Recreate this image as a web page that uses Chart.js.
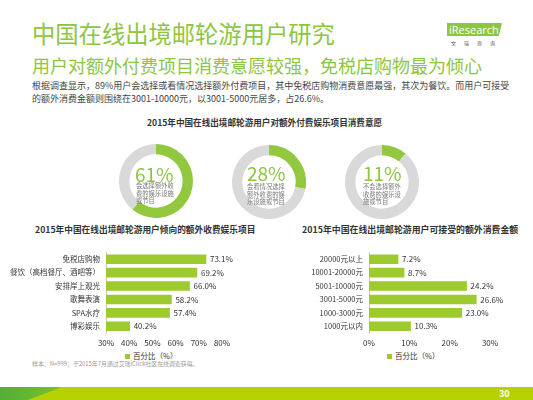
<!DOCTYPE html>
<html>
<head>
<meta charset="utf-8">
<script src="https://cdn.jsdelivr.net/npm/chart.js@4.4.1/dist/chart.umd.min.js"></script>
<style>
  body { margin:0; width:533px; height:400px; position:relative; overflow:hidden; background:#fff;
         font-family:"Noto Sans CJK SC", sans-serif; }
  .abs { position:absolute; white-space:nowrap; }
  .ring-pct { position:absolute; font-family:"Noto Sans CJK SC", sans-serif; font-weight:400; color:#8cc63f; font-size:19px; line-height:19px; }
  .ring-txt { position:absolute; color:#777; font-size:6.3px; line-height:7.5px; }
  .box { position:absolute; }
  .legend { position:absolute; font-size:7.5px; color:#333; line-height:8px; }
  .legend i { display:inline-block; width:5px; height:5px; background:#9dcb2f; margin-right:3px; vertical-align:0px; }
</style>
</head>
<body>

<div class="abs" style="left:32px; top:21px; font-size:23.3px; line-height:24px; color:#8dc63f;">中国在线出境邮轮游用户研究</div>
<div class="abs" style="left:32px; top:56px; font-size:18px; line-height:18px; color:#8dc63f;">用户对额外付费项目消费意愿较强，免税店购物最为倾心</div>
<div class="abs" style="left:32px; top:80px; font-size:9px; line-height:12.5px; color:#444;">根据调查显示，89%用户会选择或看情况选择额外付费项目，其中免税店购物消费意愿最强，其次为餐饮。而用户可接受<br>的额外消费金额则围绕在3001-10000元，以3001-5000元居多，占26.6%。</div>

<!-- logo -->
<div class="abs" style="left:447px; top:23px; width:55px; height:13px; background:#8dc63f; clip-path:polygon(0 0,100% 0,94% 100%,0 100%);"></div>
<div class="abs" style="left:449px; top:23px; font-family:'Open Sans',sans-serif; font-size:11px; line-height:13px; color:#fff;">iResearch</div>
<div class="abs" style="left:451px; top:40px; font-size:5px; line-height:6px; color:#555; letter-spacing:8px;">文瑞咨询</div>

<div class="abs" style="left:147px; top:117px; font-size:8.6px; line-height:10px; font-weight:bold; color:#333;">2015年中国在线出境邮轮游用户对额外付费娱乐项目消费意愿</div>

<div class="box" style="left:119px; top:144px; width:74px; height:74px;"><canvas id="ring0"></canvas></div>
<div class="box" style="left:232px; top:145px; width:74px; height:74px;"><canvas id="ring1"></canvas></div>
<div class="box" style="left:345px; top:145px; width:74px; height:74px;"><canvas id="ring2"></canvas></div>

<div class="ring-pct" id="pct0" style="left:135px; top:164px;"></div>
<div class="ring-txt" id="txt0" style="left:136px; top:182px;"></div>
<div class="ring-pct" id="pct1" style="left:247px; top:163px;"></div>
<div class="ring-txt" id="txt1" style="left:247px; top:183px;"></div>
<div class="ring-pct" id="pct2" style="left:363px; top:163px;"></div>
<div class="ring-txt" id="txt2" style="left:363px; top:183px;"></div>

<div class="abs" style="left:35px; top:225px; font-size:8.7px; line-height:10px; font-weight:bold; color:#333;">2015年中国在线出境邮轮游用户倾向的额外收费娱乐项目</div>
<div class="abs" style="left:302px; top:225px; font-size:8.9px; line-height:10px; font-weight:bold; color:#333;">2015年中国在线出境邮轮游用户可接受的额外消费金额</div>

<div class="box" style="left:0px; top:242px; width:240px; height:108px;"><canvas id="leftBars"></canvas></div>
<div class="box" style="left:270px; top:242px; width:240px; height:108px;"><canvas id="rightBars"></canvas></div>

<div class="legend" style="left:125px; top:352px;"><i></i>百分比（%）</div>
<div class="legend" style="left:387px; top:352px;"><i></i>百分比（%）</div>

<div class="abs" style="left:32px; top:360px; font-size:5.9px; line-height:7px; color:#999;">样本：N=999；于2015年7月通过艾瑞iClick社区在线调查获得。</div>

<!-- footer band -->
<div class="abs" style="left:0; top:387px; width:533px; height:13px; background:#b7d100;"></div>
<div class="abs" style="left:0; top:387px; width:62px; height:13px; background:linear-gradient(90deg,#52b036,#7cc02a); clip-path:polygon(0 0,100% 0,45% 100%,0 100%);"></div>
<div class="abs" style="left:499px; top:389px; font-size:9px; line-height:10px; font-weight:bold; color:#fff;">30</div>

<script>
// ring charts
const ringValues = [61, 28, 11];
const ringLines = [
  ['会选择额外收', '费的娱乐设施', '或节目'],
  ['会看情况选择', '额外收费的娱', '乐设施或节目'],
  ['不会选择额外', '收费的娱乐设', '施或节目']
];

// left bar chart
const leftCats = ['免税店购物', '餐饮（高档餐厅、酒吧等）', '安排岸上观光', '歌舞表演', 'SPA水疗', '博彩娱乐'];
const leftVals = [73.1, 69.2, 66.0, 58.2, 57.4, 40.2];
const leftTicks = { min: 30, max: 80, step: 10 };

// right bar chart
const rightCats = ['20000元以上', '10001-20000元', '5001-10000元', '3001-5000元', '1000-3000元', '1000元以内'];
const rightVals = [7.2, 8.7, 24.2, 26.6, 23.0, 10.3];
const rightTicks = { min: 0, max: 30, step: 10 };

const green = '#9dcb2f';
const textFont = '"Noto Sans CJK SC", sans-serif';

ringValues.forEach((v, i) => {
  document.getElementById('pct' + i).textContent = v + '%';
  document.getElementById('txt' + i).innerHTML = ringLines[i].join('<br>');
  new Chart(document.getElementById('ring' + i), {
    type: 'doughnut',
    data: {
      labels: ['选择', '其他'],
      datasets: [{
        data: [v, 100 - v],
        backgroundColor: ['#92c83e', '#d9d9d9'],
        borderWidth: 0
      }]
    },
    options: {
      responsive: true,
      maintainAspectRatio: false,
      animation: false,
      cutout: '72%',
      plugins: { legend: { display: false }, tooltip: { enabled: false } }
    }
  });
});

// draws the value at the end of every bar
const valueLabels = {
  id: 'valueLabels',
  afterDatasetsDraw(chart) {
    const ctx = chart.ctx;
    const vals = chart.data.datasets[0].data;
    ctx.save();
    ctx.font = '8px ' + textFont;
    ctx.fillStyle = '#333';
    ctx.textBaseline = 'middle';
    chart.getDatasetMeta(0).data.forEach((bar, i) => {
      ctx.fillText(vals[i].toFixed(1) + '%', bar.x + 4, bar.y);
    });
    ctx.restore();
  }
};

function barChart(id, cats, vals, t, axisWidth, padRight) {
  return new Chart(document.getElementById(id), {
    type: 'bar',
    data: {
      labels: cats,
      datasets: [{ label: '百分比（%）', data: vals, backgroundColor: green, base: t.min, barThickness: 9 }]
    },
    options: {
      indexAxis: 'y',
      responsive: true,
      maintainAspectRatio: false,
      animation: false,
      layout: { padding: { top: 5, right: padRight, left: 0, bottom: 0 } },
      plugins: { legend: { display: false }, tooltip: { enabled: false } },
      scales: {
        x: {
          min: t.min, max: t.max,
          grid: { display: false, drawTicks: false },
          border: { display: false },
          afterFit: s => { s.height = 17; },
          ticks: { stepSize: t.step, padding: 5, color: '#333', font: { family: textFont, size: 8 }, callback: v => v + '%' }
        },
        y: {
          grid: { display: false, drawTicks: false },
          border: { display: true, color: '#c8c8c8', width: 1 },
          afterFit: s => { s.width = axisWidth; },
          ticks: { padding: 6, color: '#333', font: { family: textFont, size: 7.5 }, autoSkip: false }
        }
      }
    },
    plugins: [valueLabels]
  });
}

barChart('leftBars', leftCats, leftVals, leftTicks, 106, 18);
barChart('rightBars', rightCats, rightVals, rightTicks, 99, 20);
</script>
</body>
</html>
